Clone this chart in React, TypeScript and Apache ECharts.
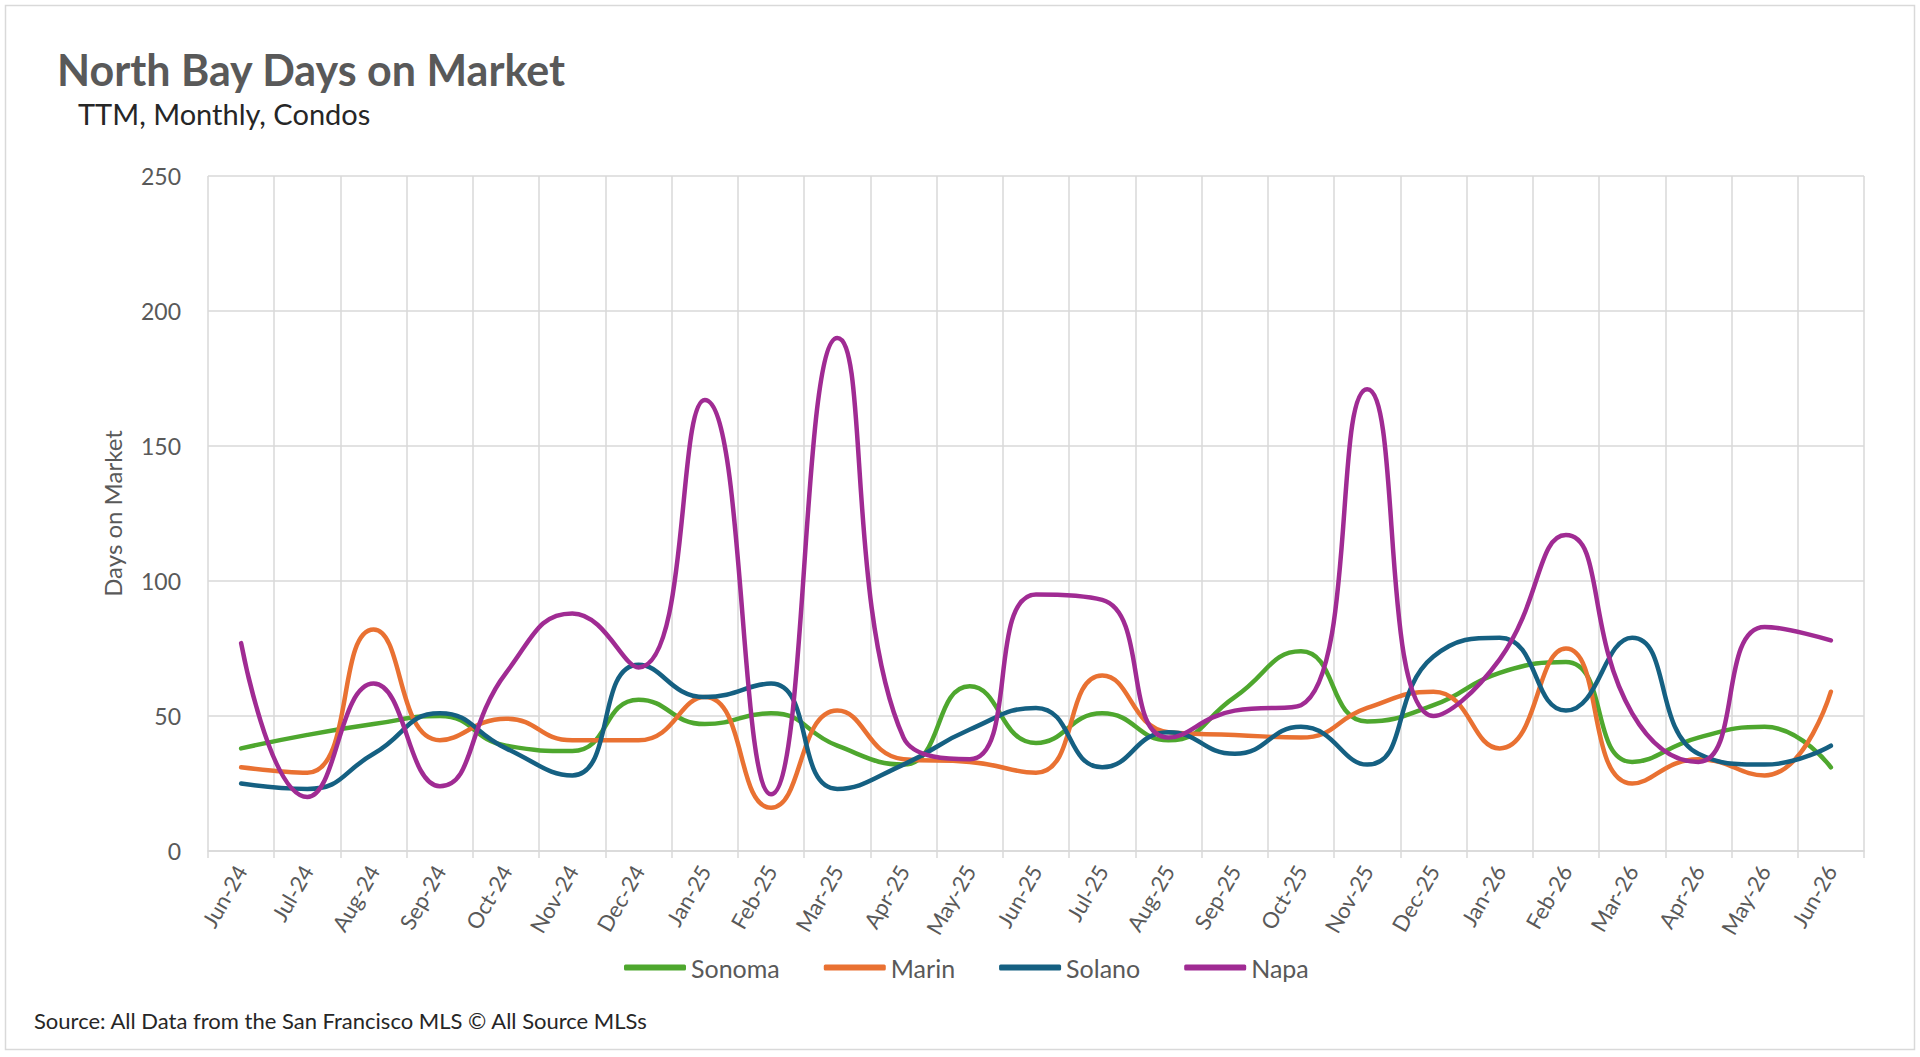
import React, { useEffect, useRef } from "react";
import * as echarts from "echarts";

const categories = [
  "Jun-24", "Jul-24", "Aug-24", "Sep-24", "Oct-24", "Nov-24", "Dec-24",
  "Jan-25", "Feb-25", "Mar-25", "Apr-25", "May-25", "Jun-25", "Jul-25",
  "Aug-25", "Sep-25", "Oct-25", "Nov-25", "Dec-25", "Jan-26", "Feb-26",
  "Mar-26", "Apr-26", "May-26", "Jun-26",
];

const sonoma = [38, 43, 47, 50, 39, 37, 56, 47, 51, 39, 32, 61, 40, 51, 41, 57, 74, 48, 54, 66, 70, 33, 42, 46, 31];
const marin = [31, 29, 82, 41, 49, 41, 41, 57, 16, 52, 34, 33, 29, 65, 44, 43, 42, 53, 59, 38, 75, 25, 34, 28, 59];
const solano = [25, 23, 36, 51, 38, 28, 69, 57, 62, 23, 32, 45, 53, 31, 44, 36, 46, 32, 72, 79, 52, 79, 36, 32, 39];
const napa = [77, 20, 62, 24, 66, 88, 68, 167, 21, 190, 42, 34, 95, 93, 42, 52, 54, 171, 50, 71, 117, 51, 33, 83, 78];

const seriesNames = ["Sonoma", "Marin", "Solano", "Napa"];
const seriesColors = ["#4EA72E", "#E97132", "#156082", "#A02B93"];
const seriesData = [sonoma, marin, solano, napa];

const yTicks = { min: 0, max: 250, interval: 50 };

const FONT = "Lato, 'Noto Sans', sans-serif";

export default function App() {
  const ref = useRef<HTMLDivElement>(null);

  useEffect(() => {
    if (!ref.current) return;
    const chart = echarts.init(ref.current, undefined, { renderer: "svg" });
    chart.setOption({
      animation: false,
      backgroundColor: "#ffffff",
      textStyle: { fontFamily: FONT },
      graphic: [
        {
          type: "rect",
          shape: { x: 5.5, y: 5.5, width: 1909, height: 1044 },
          style: { fill: "none", stroke: "#d9d9d9", lineWidth: 1.5 },
          silent: true,
        },
        {
          type: "text",
          x: 57,
          y: 69,
          style: {
            text: "North Bay Days on Market",
            fontFamily: FONT,
            fontSize: 43,
            fontWeight: "bold",
            fill: "#595959",
            textVerticalAlign: "middle",
          },
        },
        {
          type: "text",
          x: 78,
          y: 113,
          style: {
            text: "TTM, Monthly, Condos",
            fontFamily: FONT,
            fontSize: 29,
            fill: "#262626",
            textVerticalAlign: "middle",
          },
        },
        {
          type: "text",
          x: 34,
          y: 1020,
          style: {
            text: "Source: All Data from the San Francisco MLS \u00A9 All Source MLSs",
            fontFamily: FONT,
            fontSize: 22,
            fill: "#262626",
            textVerticalAlign: "middle",
          },
        },
      ],
      legend: {
        data: seriesNames,
        left: 619,
        top: 950,
        icon: "roundRect",
        itemWidth: 62,
        itemHeight: 6,
        itemGap: 44,
        textStyle: { fontFamily: FONT, fontSize: 25, color: "#595959" },
      },
      grid: { left: 208, right: 56, top: 176, bottom: 206, containLabel: false },
      xAxis: {
        type: "category",
        data: categories,
        boundaryGap: true,
        axisLine: { show: true, lineStyle: { color: "#d9d9d9", width: 1.5 } },
        axisTick: { show: true, length: 7, lineStyle: { color: "#d9d9d9", width: 1.5 } },
        splitLine: { show: true, lineStyle: { color: "#d9d9d9", width: 1.5 } },
        axisLabel: {
          interval: 0,
          rotate: 60,
          margin: 16,
          fontFamily: FONT,
          fontSize: 22,
          color: "#595959",
        },
      },
      yAxis: {
        type: "value",
        min: yTicks.min,
        max: yTicks.max,
        interval: yTicks.interval,
        name: "Days on Market",
        nameLocation: "middle",
        nameGap: 84,
        nameTextStyle: { fontFamily: FONT, fontSize: 24, color: "#595959" },
        axisLine: { show: false },
        axisTick: { show: false },
        splitLine: { show: true, lineStyle: { color: "#d9d9d9", width: 1.5 } },
        axisLabel: { margin: 27, fontFamily: FONT, fontSize: 23, color: "#595959" },
      },
      series: seriesNames.map((name, i) => ({
        name,
        type: "line",
        data: seriesData[i],
        smooth: 0.5,
        showSymbol: false,
        symbol: "none",
        itemStyle: { color: seriesColors[i] },
        lineStyle: { color: seriesColors[i], width: 4.5, cap: "round", join: "round" },
      })),
    });
    return () => chart.dispose();
  }, []);

  return (
    <div
      ref={ref}
      style={{ position: "fixed", left: 0, top: 0, width: "100vw", height: "100vh", background: "#fff" }}
    />
  );
}
